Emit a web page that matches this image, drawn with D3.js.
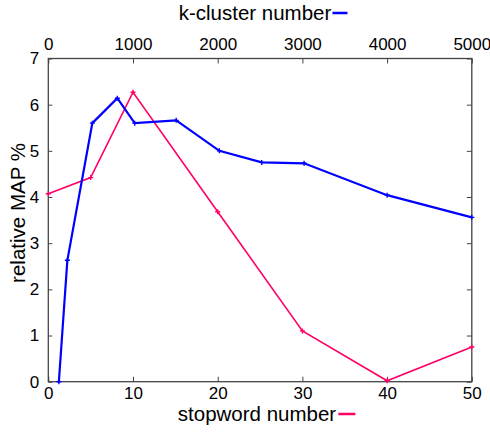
<!DOCTYPE html>
<html><head><meta charset="utf-8">
<script src="https://cdn.jsdelivr.net/npm/d3@7"></script>
<style>
html,body{margin:0;padding:0;background:#fff;}
svg text{font-family:"Liberation Sans",Arial,sans-serif;fill:#000;}
</style>
</head><body>
<svg id="c" width="490" height="432"></svg>
<script>
// Data
const kClusterX = [125, 225, 520, 815, 1020, 1510, 2020, 2520, 3020, 4000, 5000];
const kClusterY = [0.0, 2.63, 5.6, 6.14, 5.6, 5.66, 5.0, 4.75, 4.73, 4.04, 3.56];
const stopwordX = [0, 5, 10, 20, 30, 40, 50];
const stopwordY = [4.07, 4.42, 6.27, 3.68, 1.1, 0.02, 0.75];
const bottomTicks = [0, 10, 20, 30, 40, 50];
const topTicks = [0, 1000, 2000, 3000, 4000, 5000];
const yTicks = [0, 1, 2, 3, 4, 5, 6, 7];

const svg = d3.select("#c");
const L = 48.3, R = 471.8, T = 58.5, B = 381.7;
const xB = d3.scaleLinear().domain([0, 50]).range([L, R]);
const xT = d3.scaleLinear().domain([0, 5000]).range([L, R]);
const y = d3.scaleLinear().domain([0, 7]).range([B, T]);

const frame = "#444";
// ticks
const gB = svg.append("g").attr("transform", `translate(0,${B})`)
  .call(d3.axisBottom(xB).tickValues(bottomTicks).tickSize(-5).tickPadding(5).tickFormat(d3.format("d")));
const gT = svg.append("g").attr("transform", `translate(0,${T})`)
  .call(d3.axisTop(xT).tickValues(topTicks).tickSize(-5).tickPadding(9).tickFormat(d3.format("d")));
const gL = svg.append("g").attr("transform", `translate(${L},0)`)
  .call(d3.axisLeft(y).tickValues(yTicks).tickSize(-4).tickPadding(9).tickFormat(d3.format("d")));
const gR = svg.append("g").attr("transform", `translate(${R},0)`)
  .call(d3.axisRight(y).tickValues(yTicks).tickSize(-5).tickFormat(""));
[gB, gT, gL, gR].forEach(g => {
  g.select(".domain").remove();
  g.selectAll(".tick line").attr("stroke", frame);
  g.selectAll("text").style("font-size", "17px").attr("fill", "#000")
    .style("font-family", "'Liberation Sans', Arial, sans-serif");
});

// frame
svg.append("rect").attr("x", L).attr("y", T).attr("width", R - L).attr("height", B - T)
  .attr("fill", "none").attr("stroke", frame).attr("stroke-width", 1.3);

// lines
const blue = "#0000ff", pink = "#ff0066";
const lineK = d3.line().x(d => xT(d[0])).y(d => y(d[1]));
const lineS = d3.line().x(d => xB(d[0])).y(d => y(d[1]));
const kData = kClusterX.map((v, i) => [v, kClusterY[i]]);
const sData = stopwordX.map((v, i) => [v, stopwordY[i]]);

svg.append("path").datum(sData).attr("d", lineS).attr("fill", "none")
  .attr("stroke", pink).attr("stroke-width", 1.6);
svg.append("path").datum(kData).attr("d", lineK).attr("fill", "none")
  .attr("stroke", blue).attr("stroke-width", 2.2);

function cross(data, sx, color) {
  svg.append("g").selectAll("path").data(data).join("path")
    .attr("d", d => { const cx = sx(d[0]), cy = y(d[1]);
      return `M${cx-2.5},${cy}H${cx+2.5}M${cx},${cy-2.5}V${cy+2.5}`; })
    .attr("stroke", color).attr("stroke-width", 1.4);
}
cross(sData, xB, pink);
cross(kData, xT, blue);

// titles with legend dashes
const tTop = svg.append("text").attr("x", 255).attr("y", 20).attr("text-anchor", "middle")
  .style("font-size", "20.5px").text("k-cluster number");
const bbT = tTop.node().getBBox();
svg.append("line").attr("x1", bbT.x + bbT.width + 1).attr("x2", bbT.x + bbT.width + 16)
  .attr("y1", 13).attr("y2", 13).attr("stroke", blue).attr("stroke-width", 2.5);

const tBot = svg.append("text").attr("x", 257).attr("y", 421).attr("text-anchor", "middle")
  .style("font-size", "20.5px").text("stopword number");
const bbB = tBot.node().getBBox();
svg.append("line").attr("x1", bbB.x + bbB.width + 2).attr("x2", bbB.x + bbB.width + 19)
  .attr("y1", 414).attr("y2", 414).attr("stroke", pink).attr("stroke-width", 2.5);

svg.append("text").attr("transform", "translate(25,213) rotate(-90)").attr("text-anchor", "middle")
  .style("font-size", "20.5px").text("relative MAP %");
</script>
</body></html>
